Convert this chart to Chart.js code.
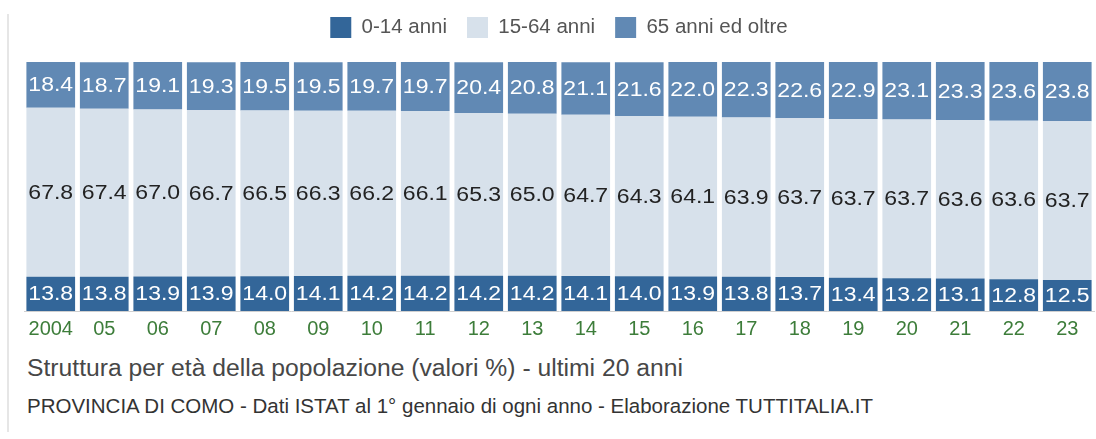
<!DOCTYPE html>
<html>
<head>
<meta charset="utf-8">
<script src="https://cdn.jsdelivr.net/npm/chart.js@4/dist/chart.umd.min.js"></script>
<style>
html,body{margin:0;padding:0;background:#fff;}
#wrap{position:relative;width:1096px;height:439px;overflow:hidden;background:#fff;font-family:"Liberation Sans",Arial,sans-serif;}
#vline{position:absolute;left:7px;top:14px;width:2px;height:418px;background:#e6e6e6;}
#cbox{position:absolute;left:0;top:-3px;width:1096px;height:349px;}
#title{position:absolute;left:27px;top:354px;font-size:24.7px;color:#474747;white-space:nowrap;}
#sub{position:absolute;left:27px;top:394px;font-size:20.5px;color:#333;white-space:nowrap;}
</style>
</head>
<body>
<div id="wrap">
<div id="vline"></div>
<div id="cbox"><canvas id="c"></canvas></div>
<div id="title">Struttura per età della popolazione (valori %) - ultimi 20 anni</div>
<div id="sub">PROVINCIA DI COMO - Dati ISTAT al 1° gennaio di ogni anno - Elaborazione TUTTITALIA.IT</div>
</div>
<script>
const years = ["2004","05","06","07","08","09","10","11","12","13","14","15","16","17","18","19","20","21","22","23"];
const age0_14 = [13.8,13.8,13.9,13.9,14.0,14.1,14.2,14.2,14.2,14.2,14.1,14.0,13.9,13.8,13.7,13.4,13.2,13.1,12.8,12.5];
const age15_64 = [67.8,67.4,67.0,66.7,66.5,66.3,66.2,66.1,65.3,65.0,64.7,64.3,64.1,63.9,63.7,63.7,63.7,63.6,63.6,63.7];
const age65plus = [18.4,18.7,19.1,19.3,19.5,19.5,19.7,19.7,20.4,20.8,21.1,21.6,22.0,22.3,22.6,22.9,23.1,23.3,23.6,23.8];
const seriesNames = ["0-14 anni","15-64 anni","65 anni ed oltre"];
const seriesColors = ["#336699","#d7e1eb","#6189b4"];
const labelColors = ["#ffffff","#222222","#ffffff"];

const valueLabels = {
  id:'valueLabels',
  afterDatasetsDraw(chart){
    const ctx = chart.ctx;
    chart.data.datasets.forEach((ds, i) => {
      const meta = chart.getDatasetMeta(i);
      meta.data.forEach((bar, j) => {
        const p = bar.getProps(['x','y','base'], true);
        ctx.save();
        ctx.translate(p.x, (p.y + p.base)/2 + 1);
        ctx.scale(1.15, 1);
        ctx.font = '20px "Liberation Sans", Arial, sans-serif';
        ctx.textAlign = 'center';
        ctx.textBaseline = 'middle';
        ctx.fillStyle = labelColors[i];
        ctx.fillText(ds.data[j].toFixed(1), 0, 0);
        ctx.restore();
      });
    });
  }
};

const legendGap = {
  id:'legendGap',
  beforeInit(chart){
    const orig = chart.legend.fit;
    chart.legend.fit = function(){ orig.bind(chart.legend)(); this.height += 14; };
  }
};

new Chart(document.getElementById('c'), {
  type: 'bar',
  data: {
    labels: years,
    datasets: [
      {label: seriesNames[0], data: age0_14, backgroundColor: seriesColors[0]},
      {label: seriesNames[1], data: age15_64, backgroundColor: seriesColors[1]},
      {label: seriesNames[2], data: age65plus, backgroundColor: seriesColors[2]}
    ]
  },
  options: {
    responsive: true,
    maintainAspectRatio: false,
    animation: false,
    devicePixelRatio: 1,
    categoryPercentage: 0.91,
    barPercentage: 1.0,
    layout: {padding: {left: 24, right: 2, top: 0, bottom: 7}},
    plugins: {
      legend: {
        position: 'top',
        labels: {
          boxWidth: 21, boxHeight: 21, padding: 20,
          color: '#555',
          font: {size: 20.5, family: '"Liberation Sans", Arial, sans-serif'}
        }
      },
      tooltip: {enabled: false},
      title: {display: false}
    },
    scales: {
      x: {
        stacked: true,
        grid: {display: false},
        border: {display: true, color: '#d0d0d0'},
        ticks: {color: '#3d7d3a', padding: -2, font: {size: 20, family: '"Liberation Sans", Arial, sans-serif'}, maxRotation: 0, autoSkip: false}
      },
      y: {
        stacked: true,
        display: false,
        min: 0, max: 100
      }
    }
  },
  plugins: [valueLabels, legendGap]
});
</script>
</body>
</html>
